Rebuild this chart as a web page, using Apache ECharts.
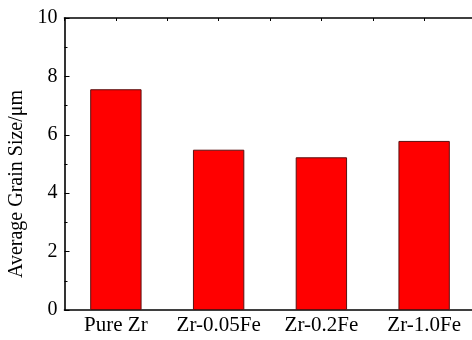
<!DOCTYPE html>
<html>
<head>
<meta charset="utf-8">
<script src="https://cdn.jsdelivr.net/npm/echarts@6/dist/echarts.min.js"></script>
<style>
html,body{margin:0;padding:0;background:#fff;}
#chart{width:472px;height:340px;}
</style>
</head>
<body>
<div id="chart"></div>
<script>
// Alloy samples and their mean grain size (µm)
const categories = ['Pure Zr', 'Zr-0.05Fe', 'Zr-0.2Fe', 'Zr-1.0Fe'];
const grainSize = [7.56, 5.49, 5.23, 5.79];
const yTicks = [0, 2, 4, 6, 8, 10];

const serif = 'Liberation Serif, Times New Roman, serif';
const chart = echarts.init(document.getElementById('chart'));
chart.setOption({
  animation: false,
  backgroundColor: '#fff',
  grid: { left: 64.5, top: 18, bottom: 30, width: 411, containLabel: false, outerBoundsMode: 'none' },
  xAxis: [
    {
      type: 'category',
      data: categories,
      position: 'bottom',
      axisLine: { lineStyle: { color: '#000', width: 1.6 } },
      axisTick: { inside: true, alignWithLabel: true, length: 4, lineStyle: { color: '#000', width: 1 } },
      axisLabel: { color: '#000', fontFamily: serif, fontSize: 21, margin: 5, interval: 0, hideOverlap: false }
    },
    {
      // frame line along the top with its own tick marks
      type: 'value',
      position: 'top',
      min: 0, max: 8, interval: 1,
      axisLine: { show: true, lineStyle: { color: '#000', width: 1.6 } },
      axisTick: { show: true, inside: true, length: 3, lineStyle: { color: '#000', width: 1 } },
      axisLabel: { show: false },
      splitLine: { show: false }
    }
  ],
  yAxis: {
    type: 'value',
    min: yTicks[0], max: yTicks[yTicks.length - 1], interval: 2,
    name: 'Average Grain Size/\u03bcm',
    nameLocation: 'middle',
    nameGap: 37,
    nameTextStyle: { color: '#000', fontFamily: serif, fontSize: 20, padding: [0, 40, 0, 0] },
    axisLine: { show: true, lineStyle: { color: '#000', width: 1.6 } },
    axisTick: { inside: true, length: 5, lineStyle: { color: '#000', width: 1 } },
    minorTick: { show: true, splitNumber: 2, length: 3, lineStyle: { color: '#000', width: 1 } },
    axisLabel: { color: '#000', fontFamily: serif, fontSize: 20, margin: 7 },
    splitLine: { show: false }
  },
  series: [{
    type: 'bar',
    data: grainSize,
    barWidth: '50%',
    itemStyle: { color: '#ff0000', borderColor: '#5a1010', borderWidth: 1 }
  }]
});
</script>
</body>
</html>
